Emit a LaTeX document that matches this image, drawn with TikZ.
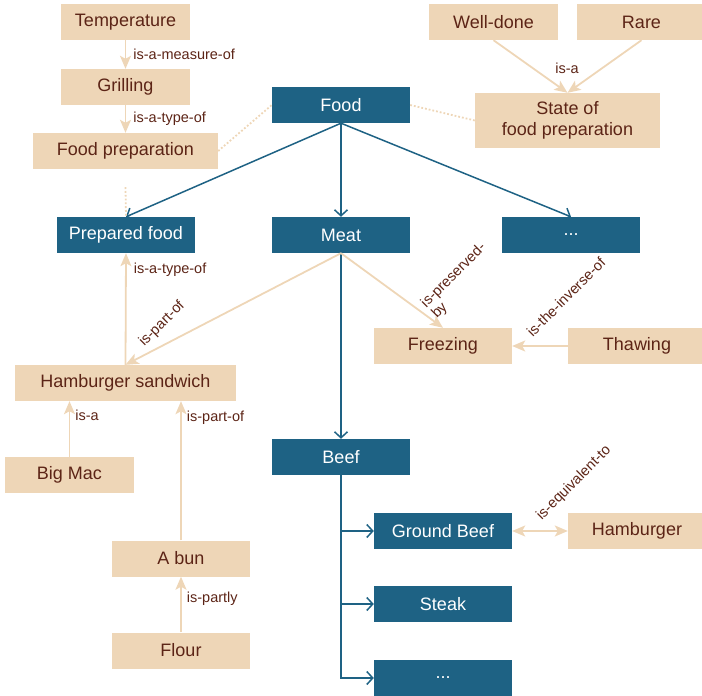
\documentclass[tikz,border=0pt]{standalone}
\usepackage{fontspec}
\setmainfont{Liberation Sans}
\usetikzlibrary{arrows.meta,positioning}
\definecolor{foodblue}{HTML}{1E6284}
\definecolor{sand}{HTML}{EED6B7}
\definecolor{cocoa}{HTML}{5C2416}
\begin{document}
\begin{tikzpicture}[x=1pt, y=-1pt,
    concept/.style = {fill=foodblue, text=white, minimum width=138pt, minimum height=36pt, inner sep=0pt, font=\fontsize{18}{21}\selectfont},
    item/.style = {fill=sand, text=cocoa, minimum width=138pt, minimum height=36pt, inner sep=0pt, align=center, font=\fontsize{18}{21}\selectfont},
    isa/.style = {draw=foodblue, line width=1.5pt, -{Straight Barb[length=6pt,width=13pt]}},
    rel/.style = {draw=sand, line width=1.8pt, -{Stealth[length=13pt,width=11pt,inset=3pt]}},
    hint/.style = {draw=sand, line width=1.8pt, dotted},
    lbl/.style = {text=cocoa, inner sep=1pt, font=\fontsize{14.5}{15}\selectfont}]
    \useasboundingbox (0,0) rectangle (702,696);
    % concepts
    \node[concept] (food) at (341,105) {Food};
    \node[concept] (prep) at (126,235) {Prepared food};
    \node[concept] (meat) at (341,235) {Meat};
    \node[concept] (more) at (571,235) {...};
    \node[concept] (beef) at (341,457) {Beef};
    \node[concept] (ground) at (443,531) {Ground Beef};
    \node[concept] (steak) at (443,604) {Steak};
    \node[concept] (cuts) at (443,678) {...};
    % related items
    \node[item, minimum width=129pt] (temp) at (125.5,22) {Temperature};
    \node[item, minimum width=129pt] (grill) at (125.5,87) {Grilling};
    \node[item, minimum width=185pt] (fprep) at (125.5,151) {Food preparation};
    \node[item, minimum width=129pt] (welldone) at (493.5,22) {Well-done};
    \node[item, minimum width=129pt] (rare) at (641.5,22) {Rare};
    \node[item, minimum width=185pt, minimum height=55pt] (state) at (567.5,120.5) {State of\\food preparation};
    \node[item, minimum width=221pt] (hs) at (125.5,383) {Hamburger sandwich};
    \node[item] (freeze) at (443,346) {Freezing};
    \node[item] (thaw) at (637,346) {Thawing};
    \node[item, minimum width=129pt] (bigmac) at (69.5,475) {Big Mac};
    \node[item] (bun) at (181,558.5) {A bun};
    \node[item] (flour) at (181,650.5) {Flour};
    \node[item] (burger) at (637,531) {Hamburger};
    % taxonomy
    \draw[isa] (food.south) -- (prep.north);
    \draw[isa] (food.south) -- (meat.north);
    \draw[isa] (food.south) -- (more.north);
    \draw[isa] (meat.south) -- (beef.north);
    \draw[isa] (beef.south) |- (cuts.west);
    \draw[isa] (beef.south |- ground.west) -- (ground.west);
    \draw[isa] (beef.south |- steak.west) -- (steak.west);
    % relations
    \draw[rel] (temp.south) -- node[lbl, right=6pt] {is-a-measure-of} (grill.north);
    \draw[rel] (grill.south) -- node[lbl, right=6pt] {is-a-type-of} (fprep.north);
    \draw[rel] (welldone.south) -- (state.north);
    \draw[rel] (rare.south) -- (state.north);
    \node[lbl] (isa1) at (567,68) {is-a};
    \draw[hint] (fprep.east) -- (food.west);
    \draw[hint] (food.east) -- (state.west);
    \draw[hint] (fprep.south) ++(0,18) -- (prep.north);
    \draw[rel] (hs.north) -- node[lbl, right=6pt, pos=0.85] {is-a-type-of} (prep.south);
    \draw[rel] (meat.south) -- (hs.north);
    \node[lbl, rotate=45] (partof1) at (162,324) {is-part-of};
    \draw[rel] (meat.south) -- (freeze.north);
    \node[lbl, rotate=45, align=left] (preserved) at (459,281) {is-preserved-\\by};
    \draw[rel] (thaw.west) -- (freeze.east);
    \node[lbl, rotate=45] (inverse) at (566,297) {is-the-inverse-of};
    \draw[rel] (bigmac.north) -- node[lbl, right=4pt, pos=0.75] {is-a} (bigmac.north |- hs.south);
    \draw[rel] (bun.north) -- node[lbl, right=4pt, pos=0.88] {is-part-of} (bun.north |- hs.south);
    \draw[rel] (flour.north) -- node[lbl, right=4pt, pos=0.6] {is-partly} (bun.south);
    \draw[rel, {Stealth[length=13pt,width=11pt,inset=3pt]}-{Stealth[length=13pt,width=11pt,inset=3pt]}] (ground.east) -- (burger.west);
    \node[lbl, rotate=45] (equiv) at (574,483) {is-equivalent-to};
\end{tikzpicture}
\end{document}
